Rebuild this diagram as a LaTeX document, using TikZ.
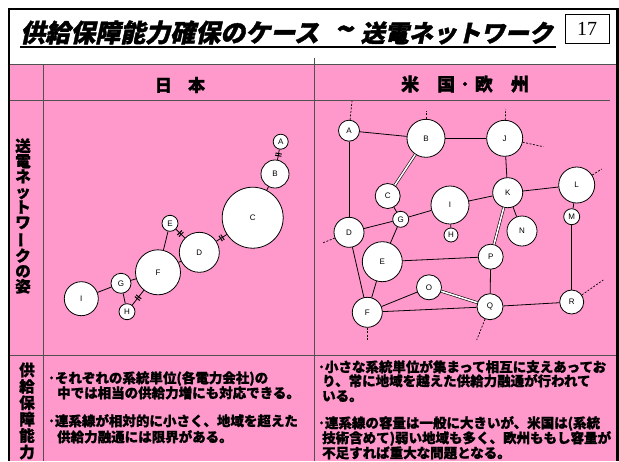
\documentclass[tikz,border=0pt]{standalone}
\usepackage{fontspec}
\setmainfont{Liberation Serif}
\newfontfamily\jp{Noto Sans CJK JP}[BoldFeatures={FakeBold=1.2}]
\newfontfamily\jpsl{Noto Sans CJK JP}[FakeSlant=0.22, BoldFeatures={FakeBold=1.5}]
\newfontfamily\lab{Liberation Sans}
\usetikzlibrary{decorations.markings}
\definecolor{pinkbg}{HTML}{FF99CC}
\definecolor{gridc}{HTML}{505050}
\tikzset{
  net/.style={draw, circle, fill=white, inner sep=0pt, line width=0.8pt,
    font=\lab\fontsize{8}{8}\selectfont},
  link/.style={line width=0.8pt},
  dbl/.style={double, double distance=1.6pt, line width=0.6pt},
  stub/.style={line width=0.7pt, dash pattern=on 2pt off 1.5pt},
  dclink/.style={link, postaction={decorate}, decoration={markings,
    mark=at position 0.5 with {\draw[line width=1pt] (-1.1pt,-3.2pt)--(-1.1pt,3.2pt) (1.1pt,-3.2pt)--(1.1pt,3.2pt);}}},
  gridline/.style={draw=gridc, line width=1pt},
  bodytext/.style={anchor=base west, inner sep=0pt, font=\jp\bfseries\fontsize{13.5}{15}\selectfont},
  vlabel/.style={inner sep=0pt, align=center},
}
\begin{document}
\begin{tikzpicture}[x=1pt,y=-1pt]
\useasboundingbox (0,0) rectangle (619,461);
% background and frame
\fill[white] (0,0) rectangle (619,461);
\fill[pinkbg] (10,64) rectangle (616,461);
\draw[gridc, line width=0.8pt] (10,64) -- (616,64);
\draw[gridline] (43,64) -- (43,461);
\draw[gridline] (314,58) -- (314,461);
\draw[gridline] (10,100) -- (610,100);
\draw[gridline] (10,355) -- (616,355);
\draw[line width=2pt] (9,9) -- (618,9);
\draw[line width=2.2pt] (9,8) -- (9,461);
\draw[line width=3pt] (617,8) -- (617,461);
% title
\node[anchor=base west, inner sep=0pt, font=\jpsl\bfseries\fontsize{25}{25}\selectfont] (t1) at (20,42) {供給保障能力確保のケース};
\node[anchor=base east, inner sep=0pt, font=\jpsl\bfseries\fontsize{24}{24}\selectfont] (t2) at (553,42) {送電ネットワーク};
\node[anchor=base east, inner sep=0pt, font=\jpsl\bfseries\fontsize{30}{30}\selectfont] (t3) at (353,40) {\textasciitilde};
\draw[line width=1.5pt] (20,47) -- (556,47);
\node[draw, line width=0.8pt, fill=white, minimum width=44pt, minimum height=29pt, inner sep=0pt, font=\fontsize{20}{20}\selectfont] (pg) at (587,28.5) {17};
% headers
\node[font=\jp\bfseries\fontsize{17}{17}\selectfont] (hj) at (180,85) {日\hspace{0.95em}本};
\node[font=\jp\bfseries\fontsize{18}{18}\selectfont] (hu) at (465,84) {米\hspace{1em}国\hspace{0.3em}･\hspace{0.3em}欧\hspace{1em}州};
% left labels
\node[vlabel, font=\jp\bfseries\fontsize{15.5}{15.3}\selectfont] (lab1) at (23,216) {送\\電\\ネ\\ッ\\ト\\ワ\\\rotatebox[origin=c]{90}{ー}\\ク\\の\\姿};
\node[vlabel, font=\jp\bfseries\fontsize{15.5}{16.4}\selectfont] (lab2) at (27,411) {供\\給\\保\\障\\能\\力};

% ---------- Japan network ----------
\node[net, minimum size=15pt] (jA) at (280.7,141.7) {A};
\node[net, minimum size=28pt] (jB) at (275,174) {B};
\node[net, minimum size=61pt] (jC) at (252.7,217.7) {C};
\node[net, minimum size=16pt] (jE) at (170,223.3) {E};
\node[net, minimum size=40pt] (jD) at (199.3,252.3) {D};
\node[net, minimum size=45pt] (jF) at (158,272.3) {F};
\node[net, minimum size=20pt] (jG) at (121,283.3) {G};
\node[net, minimum size=16pt] (jH) at (127,311.7) {H};
\node[net, minimum size=34pt] (jI) at (81.3,298.7) {I};
\draw[dclink] (jA) -- (jB);
\draw[link] (jB) -- (jC);
\draw[dclink] (jC) -- (jD);
\draw[dclink] (jE) -- (jD);
\draw[link] (jE) -- (jF);
\draw[link] (jF) -- (jD);
\draw[link] (jF) -- (jG);
\draw[link] (jG) -- (jH);
\draw[dclink] (jH) -- (jF);
\draw[link] (jG) -- (jI);

% ---------- US / Europe network ----------
\node[net, minimum size=21pt] (uA) at (349,130.7) {A};
\node[net, minimum size=38pt] (uB) at (426,138.3) {B};
\node[net, minimum size=36pt] (uJ) at (504.7,138.3) {J};
\node[net, minimum size=25pt] (uC) at (387.7,196) {C};
\node[net, minimum size=38pt] (uI) at (450,205) {I};
\node[net, minimum size=30pt] (uK) at (507.7,192.7) {K};
\node[net, minimum size=36pt] (uL) at (576.7,185) {L};
\node[net, minimum size=16pt] (uM) at (571.7,216.7) {M};
\node[net, minimum size=16pt] (uG) at (400.7,219.3) {G};
\node[net, minimum size=30pt] (uD) at (349,232.3) {D};
\node[net, minimum size=14pt] (uH) at (451,235) {H};
\node[net, minimum size=30pt] (uN) at (522,231) {N};
\node[net, minimum size=40pt] (uE) at (382.3,261.7) {E};
\node[net, minimum size=25pt] (uP) at (490.7,256.7) {P};
\node[net, minimum size=25pt] (uO) at (429,287.3) {O};
\node[net, minimum size=30pt] (uF) at (367.3,312.3) {F};
\node[net, minimum size=26pt] (uQ) at (490,306.7) {Q};
\node[net, minimum size=24pt] (uR) at (571.7,302) {R};
\draw[link] (uA) -- (uB);
\draw[link] (uA) -- (uD);
\draw[link] (uB) -- (uJ);
\draw[dbl] (uB) -- (uC);
\draw[link] (uJ) -- (uK);
\draw[link] (uK) -- (uI);
\draw[link] (uK) -- (uL);
\draw[link] (uK) -- (uN);
\draw[dbl] (uK) -- (uP);
\draw[link] (uL) -- (uM);
\draw[link] (uM) -- (uR);
\draw[link] (uC) -- (uG);
\draw[link] (uD) -- (uG);
\draw[link] (uG) -- (uI);
\draw[link] (uG) -- (uE);
\draw[link] (uI) -- (uH);
\draw[link] (uD) -- (uF);
\draw[link] (uE) -- (uF);
\draw[link] (uE) -- (uP);
\draw[link] (uP) -- (uQ);
\draw[link] (uF) -- (uO);
\draw[link] (uF) -- (uQ);
\draw[dbl] (uO) -- (uQ);
\draw[link] (uQ) -- (uR);
% external stubs
\coordinate (sA) at (352,101);
\coordinate (sB) at (426,111);
\coordinate (sJ) at (505.7,109);
\coordinate (sJ2) at (543.3,146.7);
\coordinate (sL) at (601.7,169);
\coordinate (sD) at (323.3,242.7);
\coordinate (sR) at (603.3,280);
\coordinate (sF) at (367.3,341);
\coordinate (sQ) at (476.7,340);
\draw[stub] (uA) -- (sA);
\draw[stub] (uB) -- (sB);
\draw[stub] (uJ) -- (sJ);
\draw[stub] (uJ) -- (sJ2);
\draw[stub] (uL) -- (sL);
\draw[stub] (uD) -- (sD);
\draw[stub] (uR) -- (sR);
\draw[stub] (uF) -- (sF);
\draw[stub] (uQ) -- (sQ);

% ---------- bottom texts ----------
\node[bodytext] (j1) at (48,383) {･それぞれの系統単位(各電力会社)の};
\node[bodytext] (j2) at (57,398) {中では相当の供給力増にも対応できる。};
\node[bodytext] (j3) at (48,426) {･連系線が相対的に小さく、地域を超えた};
\node[bodytext] (j4) at (57,442) {供給力融通には限界がある。};
\node[bodytext] (u1) at (318,372) {･小さな系統単位が集まって相互に支えあってお};
\node[bodytext] (u2) at (322,386) {り、常に地域を越えた供給力融通が行われて};
\node[bodytext] (u3) at (322,401) {いる。};
\node[bodytext] (u4) at (318,428) {･連系線の容量は一般に大きいが、米国は(系統};
\node[bodytext] (u5) at (322,443) {技術含めて)弱い地域も多く、欧州ももし容量が};
\node[bodytext] (u6) at (322,458) {不足すれば重大な問題となる。};
\end{tikzpicture}
\end{document}
